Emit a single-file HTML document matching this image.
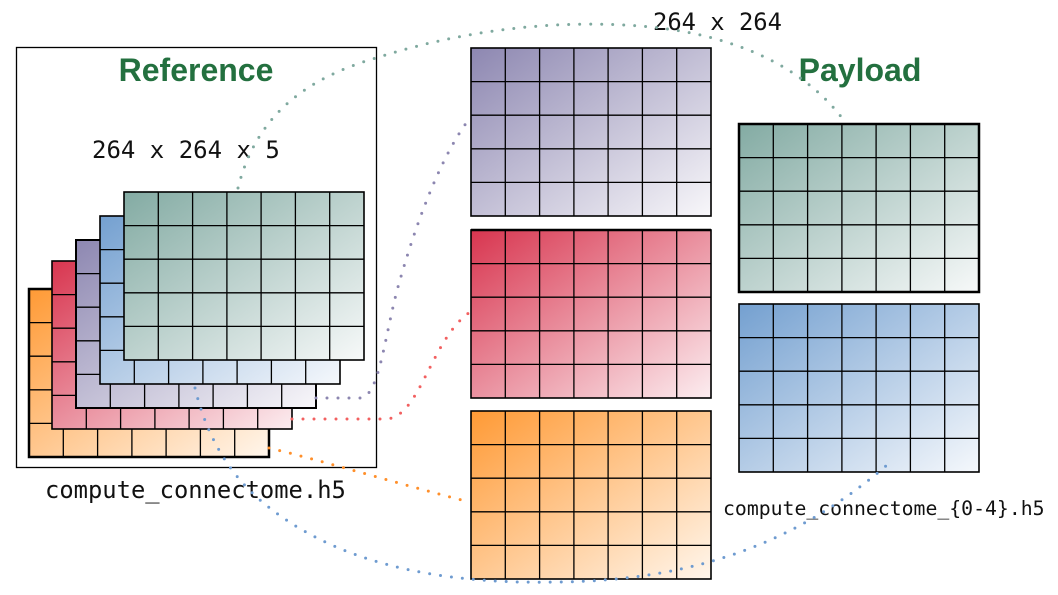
<!DOCTYPE html>
<html><head><meta charset="utf-8"><style>
html,body{margin:0;padding:0;background:#fff;}
svg{display:block}
.mono{font-family:"DejaVu Sans Mono","Liberation Mono",monospace;fill:#111}
.title{font-family:"Liberation Sans",sans-serif;font-weight:bold;fill:#23703f;font-size:32px}
</style></head><body>
<svg width="1058" height="595" viewBox="0 0 1058 595" xmlns="http://www.w3.org/2000/svg">
<defs>
<linearGradient id="gt" x1="0" y1="0" x2="1" y2="1"><stop offset="0" stop-color="#83aba3"/><stop offset="1" stop-color="#f7f9f9"/></linearGradient>
<linearGradient id="gb" x1="0" y1="0" x2="1" y2="1"><stop offset="0" stop-color="#74a0d0"/><stop offset="1" stop-color="#f5f8fc"/></linearGradient>
<linearGradient id="gp" x1="0" y1="0" x2="1" y2="1"><stop offset="0" stop-color="#8d87b1"/><stop offset="1" stop-color="#f8f7fa"/></linearGradient>
<linearGradient id="gr" x1="0" y1="0" x2="1" y2="1"><stop offset="0" stop-color="#d8354f"/><stop offset="1" stop-color="#fcedf0"/></linearGradient>
<linearGradient id="go" x1="0" y1="0" x2="1" y2="1"><stop offset="0" stop-color="#ff9a35"/><stop offset="1" stop-color="#fff6ec"/></linearGradient>
<g id="grid" fill="none" stroke="#000" stroke-width="1.3">
<path d="M34.3 0V168M68.6 0V168M102.9 0V168M137.1 0V168M171.4 0V168M205.7 0V168M0 33.6H240M0 67.2H240M0 100.8H240M0 134.4H240"/>
<rect x="0" y="0" width="240" height="168" stroke-width="1.6"/>
</g>
</defs>

<rect x="16.5" y="47.5" width="360" height="420" fill="none" stroke="#000" stroke-width="1.3"/>
<text x="196" y="81" text-anchor="middle" class="title">Reference</text>
<text x="860" y="81" text-anchor="middle" class="title">Payload</text>
<text x="92" y="158" class="mono" font-size="24">264 x 264 x 5</text>
<text x="653" y="30" class="mono" font-size="23.8">264 x 264</text>
<text x="45" y="498" class="mono" font-size="23.8">compute_connectome.h5</text>

<!-- left stack -->
<g transform="translate(29,289)"><rect width="240" height="168" fill="url(#go)"/><use href="#grid"/><rect width="240" height="168" fill="none" stroke="#000" stroke-width="2.5"/></g>
<g transform="translate(52,261)"><rect width="240" height="168" fill="url(#gr)"/><use href="#grid"/></g>
<g transform="translate(76,240)"><rect width="240" height="168" fill="url(#gp)"/><use href="#grid"/><rect width="240" height="168" fill="none" stroke="#000" stroke-width="2"/></g>
<g transform="translate(100,216)"><rect width="240" height="168" fill="url(#gb)"/><use href="#grid"/></g>
<g transform="translate(124,192)"><rect width="240" height="168" fill="url(#gt)"/><use href="#grid"/></g>

<!-- middle -->
<g transform="translate(471,48)"><rect width="240" height="168" fill="url(#gp)"/><use href="#grid"/></g>
<g transform="translate(471,230)"><rect width="240" height="168" fill="url(#gr)"/><use href="#grid"/><path d="M0 0H240" stroke="#000" stroke-width="2.5"/></g>
<g transform="translate(471,411)"><rect width="240" height="168" fill="url(#go)"/><use href="#grid"/></g>

<!-- right -->
<g transform="translate(739,124)"><rect width="240" height="168" fill="url(#gt)"/><use href="#grid"/><rect width="240" height="168" fill="none" stroke="#000" stroke-width="2.5"/></g>
<g transform="translate(739,304)"><rect width="240" height="168" fill="url(#gb)"/><use href="#grid"/></g>

<text x="723" y="515" class="mono" font-size="19.8">compute_connectome_{0-4}.h5</text>

<!-- dotted connectors -->
<g fill="none" stroke-width="3" stroke-linecap="round" stroke-dasharray="0 11">
<path d="M238 188 C255 120 300 80 376 58 C470 28 560 20 640 26 C720 32 800 60 845 122" stroke="#7fa99f"/>
<path d="M195 388 C205 430 225 470 260 500 C330 560 430 585 560 582 C700 580 800 540 887 465" stroke="#6e9bd0"/>
<path d="M316 398 H360 C380 398 385 330 400 280 C420 210 445 150 470 118" stroke="#8c86b0"/>
<path d="M292 419 H385 C420 419 430 340 470 312" stroke="#f26060"/>
<path d="M269 448 C320 460 420 490 470 502" stroke="#ff8f2a"/>
</g>
</svg>
</body></html>
